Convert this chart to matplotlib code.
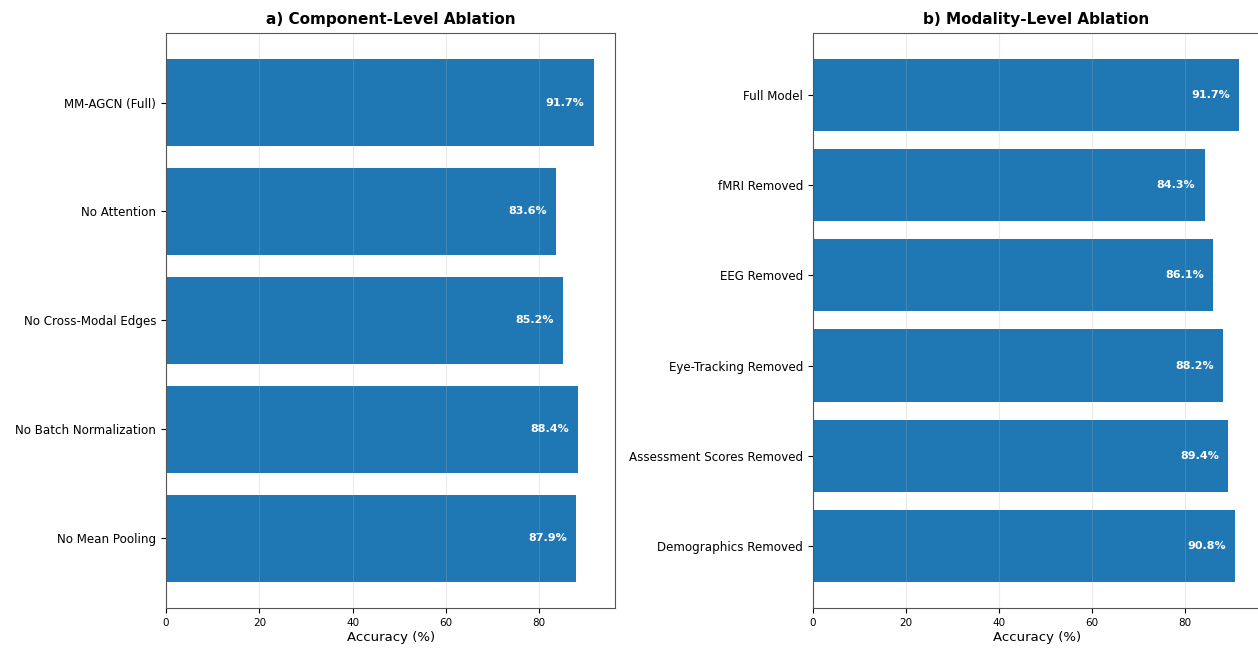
import numpy as np
import matplotlib
matplotlib.use("Agg")
import matplotlib.pyplot as plt

# Component-level ablation results
component_names = ["MM-AGCN (Full)", "No Attention", "No Cross-Modal Edges",
                   "No Batch Normalization", "No Mean Pooling"]
component_acc = [91.7, 83.6, 85.2, 88.4, 87.9]

# Modality-level ablation results
modality_names = ["Full Model", "fMRI Removed", "EEG Removed",
                  "Eye-Tracking Removed", "Assessment Scores Removed",
                  "Demographics Removed"]
modality_acc = [91.7, 84.3, 86.1, 88.2, 89.4, 90.8]

BAR_COLOR = "#1f77b4"


def draw_ablation(ax, names, values, title):
    y = np.arange(len(names))
    ax.barh(y, values, color=BAR_COLOR, height=0.8)
    ax.set_yticks(y)
    ax.set_yticklabels(names, fontsize=8.6)
    ax.invert_yaxis()
    ax.set_title(title, fontsize=11, fontweight="bold", pad=6)
    ax.set_xlabel("Accuracy (%)", fontsize=9.5, labelpad=2)
    ax.tick_params(axis="x", labelsize=7.5)
    ax.grid(axis="x", alpha=0.25)
    for i, v in enumerate(values):
        ax.text(v - 2, i, f"{v}%", ha="right", va="center",
                color="white", fontweight="bold", fontsize=8)
    for s in ax.spines.values():
        s.set_color("#555555")


fig = plt.figure(figsize=(12.58, 6.56), dpi=100)
ax1 = fig.add_axes([0.132, 0.073, 0.357, 0.877])
ax2 = fig.add_axes([0.646, 0.073, 0.356, 0.877])

draw_ablation(ax1, component_names, component_acc, "a) Component-Level Ablation")
draw_ablation(ax2, modality_names, modality_acc, "b) Modality-Level Ablation")

fig.savefig("out.png", dpi=100)
